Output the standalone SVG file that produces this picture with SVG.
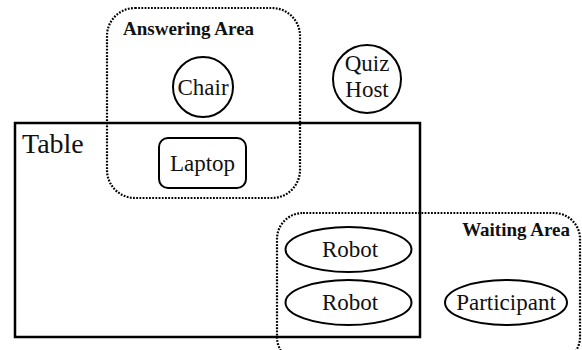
<svg xmlns="http://www.w3.org/2000/svg" width="582" height="350" viewBox="0 0 582 350">
<style>
.area{fill:none;stroke:#000;stroke-width:2.2;stroke-dasharray:1.8 1.4}
.shape{fill:#fff;stroke:#000;stroke-width:2}
.lbl{font-family:"Liberation Serif",serif;font-size:23px;fill:#111;text-anchor:middle}
.title{font-family:"Liberation Serif",serif;font-size:19px;font-weight:bold;fill:#111}
</style>
<rect width="582" height="350" fill="#fff"/>
<g id="table">
<rect x="15" y="123" width="405" height="214" fill="none" stroke="#000" stroke-width="2.5"/>
<text x="22" y="153" font-family="Liberation Serif, serif" font-size="28" fill="#111">Table</text>
</g>
<g id="answering-area">
<rect class="area" x="107" y="8" width="193" height="190" rx="28"/>
<text class="title" x="123" y="35">Answering Area</text>
</g>
<g id="waiting-area">
<rect class="area" x="277" y="213" width="303" height="150" rx="26"/>
<text class="title" x="570" y="236" text-anchor="end">Waiting Area</text>
</g>
<g id="chair">
<circle class="shape" cx="203" cy="87" r="30"/>
<text class="lbl" x="203" y="95">Chair</text>
</g>
<g id="quiz-host">
<circle class="shape" cx="367" cy="79" r="34"/>
<text class="lbl" x="367" y="71">Quiz</text>
<text class="lbl" x="367" y="97">Host</text>
</g>
<g id="laptop">
<rect class="shape" x="159" y="138" width="87" height="50" rx="9"/>
<text class="lbl" x="202.5" y="171">Laptop</text>
</g>
<g id="robot1">
<ellipse class="shape" cx="348.5" cy="249.5" rx="63" ry="22.5"/>
<text class="lbl" x="350" y="257">Robot</text>
</g>
<g id="robot2">
<ellipse class="shape" cx="348.5" cy="302.5" rx="63" ry="22.5"/>
<text class="lbl" x="350" y="310">Robot</text>
</g>
<g id="participant">
<ellipse class="shape" cx="506" cy="302.5" rx="61" ry="22.5"/>
<text class="lbl" x="506" y="310">Participant</text>
</g>
<g id="connectors"></g>
</svg>
